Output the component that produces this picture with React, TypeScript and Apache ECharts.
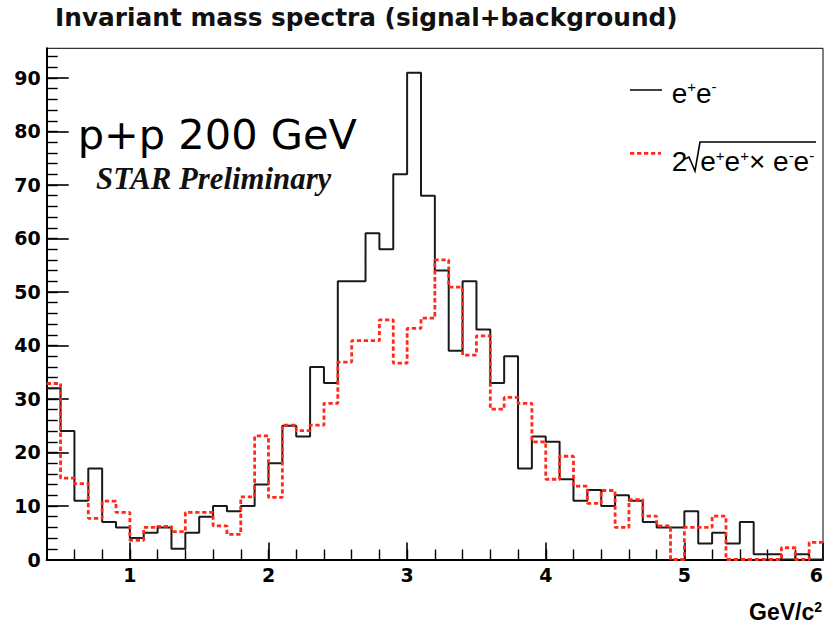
import React, { useEffect, useRef } from 'react';
import * as echarts from 'echarts';

// Histogram binning (GeV/c^2)
const X_MIN = 0.4;
const X_MAX = 6.0;
const BIN_WIDTH = 0.1;
const Y_MAX = 95.55;

// e+e- (unlike-sign) counts per 0.1 GeV/c^2 bin, from 0.4 to 6.0
const eeCounts = [
  32, 24, 11, 17, 7, 6, 4, 5, 6, 2,
  5, 8, 10, 9, 10, 14, 18, 25, 23, 36,
  33, 52, 52, 61, 58, 72, 91, 68, 54, 39,
  52, 43, 33, 38, 17, 23, 22, 15, 11, 13,
  10, 12, 11, 7, 6, 6, 9, 3, 5, 3,
  7, 1, 1, 0, 1, 0,
];

// 2*sqrt(e+e+ x e-e-) like-sign background
const likeSignBkg = [
  32.9, 15.2, 14.2, 7.7, 10.9, 8.8, 3.6, 6.0, 6.2, 5.2,
  8.8, 8.8, 6.3, 4.7, 11.7, 23.1, 11.6, 25.1, 24.1, 25.1,
  29.2, 36.9, 40.9, 40.9, 44.8, 36.7, 43.2, 45.1, 56.0, 50.9,
  38.2, 41.8, 28.1, 30.3, 29.2, 22.0, 15.0, 19.3, 13.7, 10.5,
  12.9, 6.0, 11.2, 8.1, 6.3, 0, 6.0, 6.0, 8.1, 0,
  0, 0, 0, 2.2, 0, 3.2,
];

const xMajorTicks = [1, 2, 3, 4, 5, 6];
const yMajorTicks = [0, 10, 20, 30, 40, 50, 60, 70, 80, 90];
const xMinorTicks = Array.from({ length: 27 }, (_, i) => +(0.6 + 0.2 * i).toFixed(1));
const yMinorTicks = Array.from({ length: 47 }, (_, i) => 2 * i + 2);

const RED = '#ff2a1a';
const BLACK = '#1a1a1a';

function toSteps(values: number[]): number[][] {
  const pts = values.map((v, i) => [+(X_MIN + i * BIN_WIDTH).toFixed(2), v]);
  pts.push([X_MAX, values[values.length - 1]]);
  return pts;
}

const labelFont = {
  fontFamily: 'DejaVu Sans',
  fontWeight: 'bold' as const,
  fontSize: 19,
  color: '#000',
};

export default function App() {
  const ref = useRef<HTMLDivElement>(null);

  useEffect(() => {
    document.body.style.margin = '0';
    const chart = echarts.init(ref.current!, null, { renderer: 'svg' });
    const option: any = {
      animation: false,
      backgroundColor: '#ffffff',
      title: {
        text: 'Invariant mass spectra (signal+background)',
        left: 55,
        top: 5,
        padding: 0,
        textStyle: {
          fontFamily: 'DejaVu Sans',
          fontWeight: 'bold',
          fontSize: 24.8,
          color: '#111',
        },
      },
      grid: {
        left: 46.7,
        right: 2,
        top: 48.3,
        bottom: 63.5,
        show: true,
        borderColor: '#000',
        borderWidth: 1,
        backgroundColor: 'transparent',
        containLabel: false,
        outerBoundsMode: 'none',
      },
      xAxis: [
        {
          type: 'value',
          min: X_MIN,
          max: X_MAX,
          position: 'bottom',
          splitLine: { show: false },
          axisLine: { show: true, onZero: false, lineStyle: { color: '#000', width: 2 } },
          axisTick: {
            show: true,
            inside: true,
            length: 17,
            customValues: xMajorTicks,
            lineStyle: { color: '#000', width: 1.6 },
          },
          axisLabel: { ...labelFont, margin: 6, customValues: xMajorTicks, alignMaxLabel: 'right' },
          name: '{a|GeV/c}{b|2}',
          nameLocation: 'end',
          nameGap: 0,
          nameTextStyle: {
            align: 'right',
            verticalAlign: 'top',
            padding: [40, 1, 0, 0],
            rich: {
              a: { fontFamily: 'Liberation Sans', fontWeight: 'bold', fontSize: 23, color: '#000', lineHeight: 24 },
              b: { fontFamily: 'Liberation Sans', fontWeight: 'bold', fontSize: 14, color: '#000', lineHeight: 12, verticalAlign: 'top' },
            },
          },
        },
        {
          type: 'value',
          min: X_MIN,
          max: X_MAX,
          position: 'bottom',
          splitLine: { show: false },
          axisLine: { show: false, onZero: false },
          axisTick: {
            show: true,
            inside: true,
            length: 10,
            customValues: xMinorTicks,
            lineStyle: { color: '#000', width: 1.4 },
          },
          axisLabel: { show: false },
        },
      ],
      yAxis: [
        {
          type: 'value',
          min: 0,
          max: Y_MAX,
          position: 'left',
          splitLine: { show: false },
          axisLine: { show: true, onZero: false, lineStyle: { color: '#000', width: 2 } },
          axisTick: {
            show: true,
            inside: true,
            length: 22,
            customValues: yMajorTicks,
            lineStyle: { color: '#000', width: 1.6 },
          },
          axisLabel: { ...labelFont, margin: 6, customValues: yMajorTicks },
        },
        {
          type: 'value',
          min: 0,
          max: Y_MAX,
          position: 'left',
          splitLine: { show: false },
          axisLine: { show: false, onZero: false },
          axisTick: {
            show: true,
            inside: true,
            length: 11,
            customValues: yMinorTicks,
            lineStyle: { color: '#000', width: 1.4 },
          },
          axisLabel: { show: false },
        },
      ],
      series: [
        {
          name: 'e+e-',
          type: 'line',
          step: 'end',
          xAxisIndex: 0,
          yAxisIndex: 0,
          data: toSteps(eeCounts),
          showSymbol: false,
          symbol: 'none',
          silent: true,
          z: 2,
          lineStyle: { color: BLACK, width: 2 },
        },
        {
          name: '2sqrt(e+e+ x e-e-)',
          type: 'line',
          step: 'end',
          xAxisIndex: 0,
          yAxisIndex: 0,
          data: toSteps(likeSignBkg),
          showSymbol: false,
          symbol: 'none',
          silent: true,
          z: 3,
          lineStyle: { color: RED, width: 2.8, type: [4.3, 2.7] },
        },
      ],
      graphic: [
        {
          type: 'text',
          x: 77.7,
          y: 134.5,
          style: {
            text: 'p+p 200 GeV',
            fontFamily: 'DejaVu Sans',
            fontSize: 41.5,
            fill: '#000',
            align: 'left',
            verticalAlign: 'middle',
          },
        },
        {
          type: 'text',
          x: 96,
          y: 178.6,
          style: {
            text: 'STAR Preliminary',
            fontFamily: 'Liberation Serif',
            fontStyle: 'italic',
            fontWeight: 'bold',
            fontSize: 30.8,
            fill: '#111',
            align: 'left',
            verticalAlign: 'middle',
          },
        },
        {
          type: 'line',
          shape: { x1: 630, y1: 90, x2: 662, y2: 90 },
          style: { stroke: '#000', lineWidth: 1.5 },
        },
        {
          type: 'text',
          x: 671.7,
          y: 93.4,
          style: {
            text: '{n|e}{s|+}{n|e}{s|-}',
            align: 'left',
            verticalAlign: 'middle',
            rich: {
              n: { fontFamily: 'Liberation Sans', fontSize: 28, lineHeight: 28, fill: '#000' },
              s: { fontFamily: 'Liberation Sans', fontSize: 15, lineHeight: 22, verticalAlign: 'top', fill: '#000' },
            },
          },
        },
        {
          type: 'line',
          shape: { x1: 630, y1: 153.3, x2: 661, y2: 153.3 },
          style: { stroke: RED, lineWidth: 2.8, lineDash: [4.3, 2.7] },
        },
        {
          type: 'text',
          x: 671.7,
          y: 161.6,
          style: {
            text: '{n|2}{g| }{n|e}{s|+}{n|e}{s|+}{n|× e}{s|-}{n|e}{s|-}',
            align: 'left',
            verticalAlign: 'middle',
            rich: {
              n: { fontFamily: 'Liberation Sans', fontSize: 28, lineHeight: 28, fill: '#000' },
              g: { fontFamily: 'Liberation Sans', fontSize: 28, lineHeight: 28, width: 13 },
              s: { fontFamily: 'Liberation Sans', fontSize: 15, lineHeight: 22, verticalAlign: 'top', fill: '#000' },
            },
          },
        },
        {
          type: 'polyline',
          shape: { points: [[685, 159], [689, 157], [695, 171], [700, 142], [816, 142]] },
          style: { stroke: '#000', lineWidth: 1.6, fill: null },
        },
      ],
    };
    chart.setOption(option);
    return () => chart.dispose();
  }, []);

  return <div ref={ref} style={{ width: 825, height: 623 }} />;
}
